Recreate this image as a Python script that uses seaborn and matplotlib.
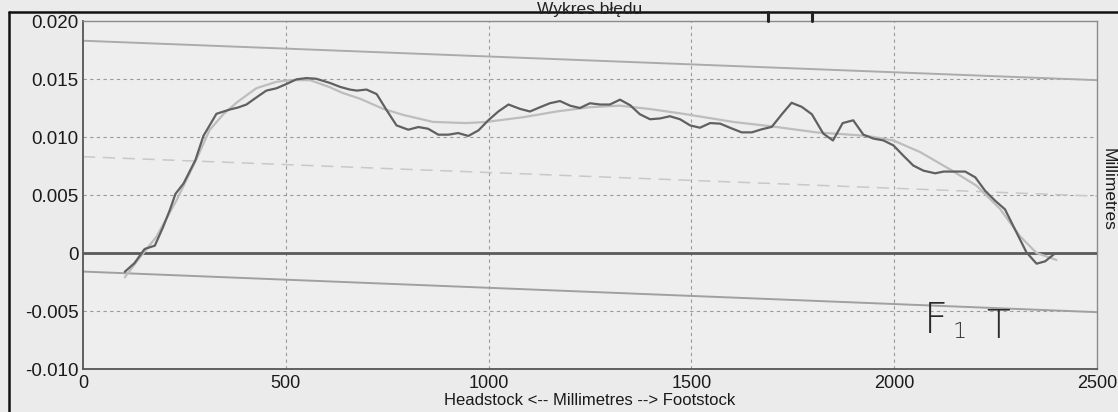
import matplotlib
matplotlib.use("Agg")
import matplotlib.pyplot as plt
from matplotlib.lines import Line2D
import seaborn as sns

# ---------------- data ----------------
profile_x = [103, 127, 152, 177, 197, 214, 228, 248, 277, 297, 329, 362, 382, 403, 427, 452, 477, 501,
             526, 551, 575, 608, 634, 658, 675, 699, 724, 749, 773, 802, 827, 851, 876, 901, 925, 950,
             975, 999, 1024, 1049, 1077, 1102, 1127, 1151, 1176, 1201, 1225, 1250, 1275, 1299, 1324,
             1349, 1373, 1398, 1423, 1447, 1472, 1497, 1521, 1546, 1571, 1595, 1624, 1649, 1673, 1698,
             1723, 1747, 1772, 1797, 1825, 1849, 1873, 1899, 1924, 1949, 1973, 1998, 2022, 2047, 2072,
             2101, 2122, 2146, 2175, 2200, 2224, 2249, 2273, 2302, 2326, 2351, 2372, 2396]
profile_y = [-0.00162, -0.00087, 0.00035, 0.00063, 0.0022, 0.0037, 0.0051, 0.0060, 0.0080, 0.0101,
             0.0120, 0.01237, 0.01254, 0.0128, 0.0134, 0.0140, 0.0142, 0.01456, 0.01497, 0.01508,
             0.01502, 0.01467, 0.01432, 0.01409, 0.0140, 0.01409, 0.0137, 0.01229, 0.0110, 0.01063,
             0.01086, 0.01071, 0.0102, 0.0102, 0.01034, 0.01009, 0.01057, 0.01143, 0.0122, 0.0128,
             0.01243, 0.0122, 0.01257, 0.01291, 0.0131, 0.0127, 0.0125, 0.01291, 0.0128, 0.0128,
             0.01322, 0.01274, 0.01196, 0.01153, 0.0116, 0.01179, 0.01153, 0.0110, 0.0108, 0.0112,
             0.01115, 0.0108, 0.0104, 0.0104, 0.01066, 0.01087, 0.01196, 0.01295, 0.0126, 0.01196,
             0.0103, 0.0097, 0.0112, 0.01144, 0.0102, 0.00986, 0.00971, 0.00928, 0.00841, 0.00754,
             0.0071, 0.00687, 0.00702, 0.00702, 0.00702, 0.00652, 0.00537, 0.0045, 0.00377, 0.00174,
             0.00006, -0.00092, -0.00072, -0.00005]

fit_x = [103, 140, 181, 230, 280, 312, 347, 380, 427, 477, 510, 560, 608, 640, 683, 740, 790, 863,
         945, 995, 1086, 1168, 1250, 1324, 1400, 1480, 1603, 1702, 1808, 1932, 1998, 2064, 2138, 2203,
         2261, 2310, 2351, 2400]
fit_y = [-0.0021, -0.0004, 0.0014, 0.0045, 0.0081, 0.0106, 0.0120, 0.0130, 0.0142, 0.01476, 0.0149,
         0.0149, 0.0143, 0.0138, 0.0133, 0.01243, 0.0119, 0.0113, 0.0112, 0.0113, 0.01171, 0.0122,
         0.01257, 0.0127, 0.0124, 0.0120, 0.0113, 0.0109, 0.0104, 0.0101, 0.0097, 0.0087, 0.0072,
         0.0058, 0.0038, 0.00145, 0.0, -0.0006]

limit_x = [0, 2500]
upper_limit_y = [0.0183, 0.0149]
mid_line_y = [0.0083, 0.0049]
lower_limit_y = [-0.0016, -0.0051]
zero_y = [0.0, 0.0]

x_ticks = [0, 500, 1000, 1500, 2000, 2500]
x_tick_labels = ["0", "500", "1000", "1500", "2000", "2500"]
y_ticks = [0.020, 0.015, 0.010, 0.005, 0.0, -0.005, -0.010]
y_tick_labels = ["0.020", "0.015", "0.010", "0.005", "0", "-0.005", "-0.010"]

# ---------------- style ----------------
sns.set_style("white")
plt.rcParams["font.family"] = ["Liberation Sans", "DejaVu Sans"]

W, H = 1118, 412
fig = plt.figure(figsize=(W / 100, H / 100), dpi=100, facecolor="#ebebeb")
ax = fig.add_axes([83 / W, 1 - 369 / H, (1097 - 83) / W, (369 - 21) / H])
ax.set_facecolor("#eeeeee")

# gridlines
for gx in [500, 1000, 1500, 2000]:
    ax.axvline(gx, color="#9a9a9a", lw=0.8, ls=(0, (3, 3)), zorder=1)
for gy in [0.015, 0.010, 0.005, -0.005]:
    ax.axhline(gy, color="#9a9a9a", lw=0.8, ls=(0, (3, 3)), zorder=1)

sns.lineplot(x=limit_x, y=upper_limit_y, ax=ax, color="#ababab", lw=1.4, zorder=2, legend=False)
sns.lineplot(x=limit_x, y=lower_limit_y, ax=ax, color="#a0a0a0", lw=1.4, zorder=2, legend=False)
sns.lineplot(x=limit_x, y=mid_line_y, ax=ax, color="#c8c8c8", lw=1.1, ls=(0, (8, 5)), zorder=2, legend=False)
sns.lineplot(x=limit_x, y=zero_y, ax=ax, color="#5a5a5a", lw=2.0, zorder=3, legend=False)
sns.lineplot(x=fit_x, y=fit_y, ax=ax, color="#bdbdbd", lw=1.6, zorder=4, sort=False, estimator=None, legend=False)
sns.lineplot(x=profile_x, y=profile_y, ax=ax, color="#606060", lw=1.6, zorder=5, sort=False, estimator=None, legend=False)

ax.set_xlim(0, 2500)
ax.set_ylim(-0.010, 0.020)
ax.set_xticks(x_ticks)
ax.set_xticklabels(x_tick_labels, fontsize=13, color="#1a1a1a")
ax.set_yticks(y_ticks)
ax.set_yticklabels(y_tick_labels, fontsize=13.5, color="#1a1a1a")
ax.tick_params(axis="both", length=0)
ax.tick_params(axis="y", pad=3)
ax.tick_params(axis="x", pad=4)
ax.set_xlabel("Headstock <-- Millimetres --> Footstock", fontsize=12, labelpad=1, color="#1a1a1a")
ax.set_ylabel("")

for side in ["left", "bottom"]:
    ax.spines[side].set_color("#555555")
    ax.spines[side].set_linewidth(1.3)
for side in ["top", "right"]:
    ax.spines[side].set_color("#8c8c8c")
    ax.spines[side].set_linewidth(1.0)

# right-side axis title
fig.text(1108 / W, 1 - 189 / H, "Millimetres", rotation=270, ha="center", va="center",
         fontsize=12.5, color="#1a1a1a")

# title (partly hidden by the scan frame in the reference)
fig.text(590 / W, 1 - 14 / H, "Wykres błędu", ha="center", va="baseline", fontsize=12.5, color="#222222")

# scan frame
fig.add_artist(Line2D([9 / W, 1.0], [1 - 12 / H, 1 - 12 / H], transform=fig.transFigure,
                      color="#111111", lw=1.8))
fig.add_artist(Line2D([9 / W, 9 / W], [0.0, 1 - 12 / H], transform=fig.transFigure,
                      color="#111111", lw=1.8))

# handwritten pen marks
for mx in [768, 812]:
    fig.add_artist(Line2D([mx / W, mx / W], [1 - 12 / H, 1 - 21 / H], transform=fig.transFigure,
                          color="#222222", lw=2.2))
fig.text(924 / W, 1 - 333 / H, "F", fontsize=30, color="#2a2a2a", ha="left", va="baseline",
         family=["DejaVu Sans"], fontweight="light")
fig.text(953 / W, 1 - 338 / H, "1", fontsize=16, color="#2a2a2a", ha="left", va="baseline",
         family=["DejaVu Sans"], fontweight="light")
fig.text(986 / W, 1 - 338 / H, "T", fontsize=28, color="#2a2a2a", ha="left", va="baseline",
         family=["DejaVu Sans"], fontweight="light")

fig.savefig("out.png", dpi=100, facecolor=fig.get_facecolor())
